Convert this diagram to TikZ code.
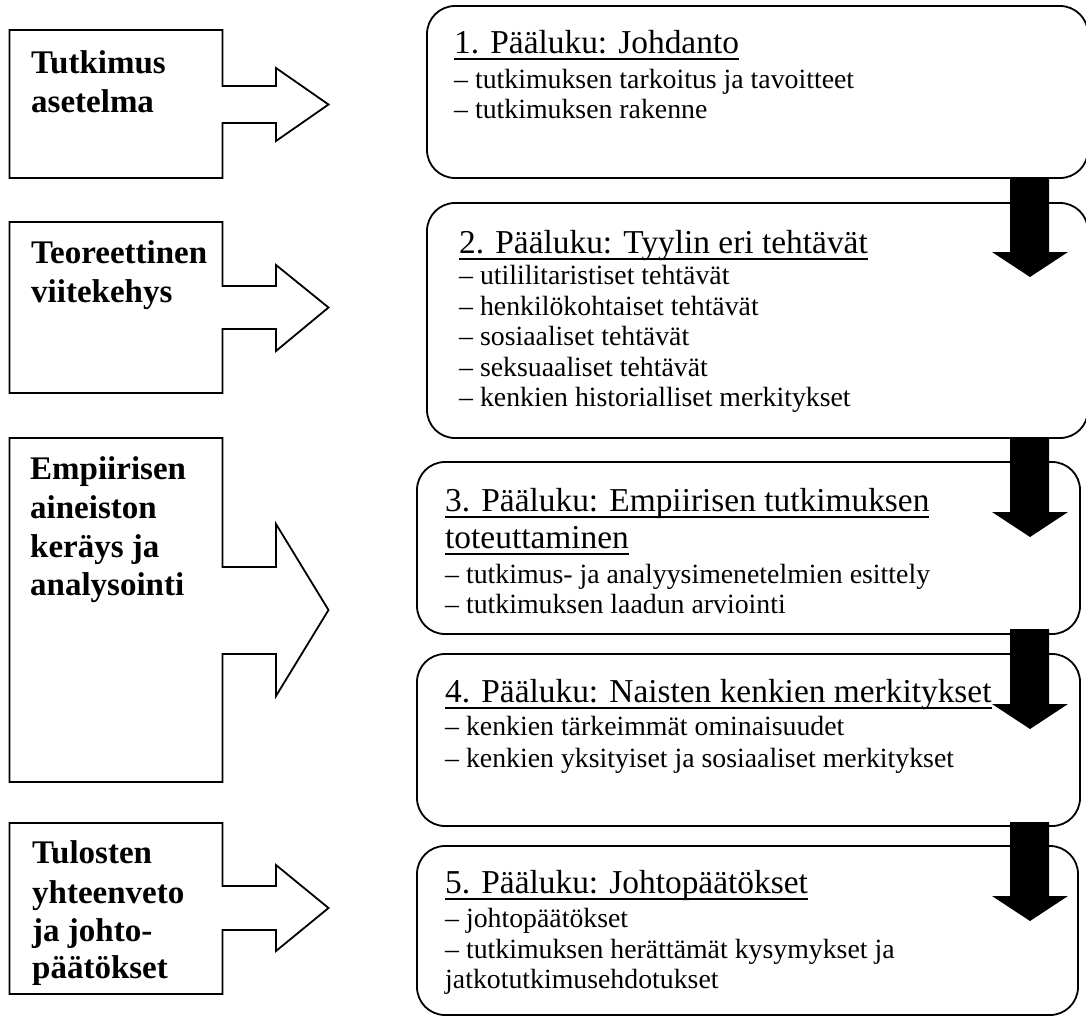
\documentclass[tikz,border=0pt]{standalone}
\usepackage{fontspec}
\setmainfont{Liberation Serif}
% underline drawn as a rule under the baseline, through descenders
\newcommand\chapline[1]{\setbox0\hbox{#1}\rlap{\rule[-6.5pt]{\wd0}{2pt}}\box0}
\begin{document}
\begin{tikzpicture}[x=1pt,y=-1pt,
  lbl/.style={anchor=base west,inner sep=0pt,font=\fontsize{33}{39}\selectfont\bfseries},
  ttl/.style={anchor=base west,inner sep=0pt,font=\fontsize{33.4}{37}\selectfont},
  itm/.style={anchor=base west,inner sep=0pt,font=\fontsize{27.8}{30.5}\selectfont},
  frame/.style={draw=black,line width=1.8pt,line join=miter},
  rbox/.style={draw=black,line width=1.8pt,rounded corners=28pt},
  blk/.style={fill=black}]
\useasboundingbox (0,0) rectangle (1086,1017);

% ---- phase boxes with outline arrows (left column)
\draw[frame] (9.5,30) -- (222.5,30) -- (222.5,86) -- (276,86) -- (276,68) -- (328.5,104.5)
  -- (276,141) -- (276,123) -- (222.5,123) -- (222.5,178) -- (9.5,178) -- cycle;
\draw[frame] (9.5,222) -- (222.5,222) -- (222.5,286) -- (276,286) -- (276,265) -- (328.5,307.5)
  -- (276,351) -- (276,329) -- (222.5,329) -- (222.5,393) -- (9.5,393) -- cycle;
\draw[frame] (9.5,438) -- (222.5,438) -- (222.5,567) -- (276,567) -- (276,524) -- (328.5,610)
  -- (276,696) -- (276,654) -- (222.5,654) -- (222.5,782) -- (9.5,782) -- cycle;
\draw[frame] (9.5,823) -- (222.5,823) -- (222.5,886) -- (276,886) -- (276,865) -- (328.5,908)
  -- (276,951) -- (276,930) -- (222.5,930) -- (222.5,994) -- (9.5,994) -- cycle;

\node[lbl] (l1a) at (31,73)  {Tutkimus};
\node[lbl] (l1b) at (31,112) {asetelma};
\node[lbl] (l2a) at (31,263) {Teoreettinen};
\node[lbl] (l2b) at (31,302) {viitekehys};
\node[lbl] (l3a) at (30,479) {Empiirisen};
\node[lbl] (l3b) at (30,518) {aineiston};
\node[lbl] (l3c) at (30,557) {keräys ja};
\node[lbl] (l3d) at (30,595) {analysointi};
\node[lbl] (l4a) at (32,863) {Tulosten};
\node[lbl] (l4b) at (32,903) {yhteenveto};
\node[lbl] (l4c) at (32,941) {ja johto-};
\node[lbl] (l4d) at (32,978) {päätökset};

% ---- chapter boxes (right column)
\draw[rbox] (427,6)   rectangle (1088,178);
\draw[rbox] (427,203) rectangle (1088,438);
\draw[rbox] (417,462) rectangle (1080,634);
\draw[rbox] (417,654) rectangle (1080,826);
\draw[rbox] (417,846) rectangle (1078,1015);

\node[ttl] (t1) at (454,53) {\chapline{1. Pääluku: Johdanto}};
\node[itm] (t1a) at (454,88)  {– tutkimuksen tarkoitus ja tavoitteet};
\node[itm] (t1b) at (454,118) {– tutkimuksen rakenne};

\node[ttl] (t2) at (459,253) {\chapline{2. Pääluku: Tyylin eri tehtävät}};
\node[itm] (t2a) at (459,284) {– utililitaristiset tehtävät};
\node[itm] (t2b) at (459,315) {– henkilökohtaiset tehtävät};
\node[itm] (t2c) at (459,345) {– sosiaaliset tehtävät};
\node[itm] (t2d) at (459,376) {– seksuaaliset tehtävät};
\node[itm] (t2e) at (459,406) {– kenkien historialliset merkitykset};

\node[ttl] (t3) at (445,511) {\chapline{3. Pääluku: Empiirisen tutkimuksen}};
\node[ttl] (t3x) at (445,548) {\chapline{toteuttaminen}};
\node[itm] (t3a) at (445,583) {– tutkimus- ja analyysimenetelmien esittely};
\node[itm] (t3b) at (445,613) {– tutkimuksen laadun arviointi};

\node[ttl] (t4) at (445,702) {\chapline{4. Pääluku: Naisten kenkien merkitykset}};
\node[itm] (t4a) at (445,735) {– kenkien tärkeimmät ominaisuudet};
\node[itm] (t4b) at (445,767) {– kenkien yksityiset ja sosiaaliset merkitykset};

\node[ttl] (t5) at (445,893) {\chapline{5. Pääluku: Johtopäätökset}};
\node[itm] (t5a) at (445,927) {– johtopäätökset};
\node[itm] (t5b) at (445,958) {– tutkimuksen herättämät kysymykset ja};
\node[itm] (t5c) at (445,988) {jatkotutkimusehdotukset};

% ---- solid arrows between chapters
\fill[blk] (1010,178) -- (1049,178) -- (1049,252) -- (1068,252) -- (1030,277) -- (992,252) -- (1010,252) -- cycle;
\fill[blk] (1010,437) -- (1049,437) -- (1049,512) -- (1068,512) -- (1030,537) -- (992,512) -- (1010,512) -- cycle;
\fill[blk] (1010,629) -- (1049,629) -- (1049,704) -- (1068,704) -- (1030,729) -- (992,704) -- (1010,704) -- cycle;
\fill[blk] (1010,822) -- (1049,822) -- (1049,896) -- (1068,896) -- (1030,921) -- (992,896) -- (1010,896) -- cycle;
\end{tikzpicture}
\end{document}
